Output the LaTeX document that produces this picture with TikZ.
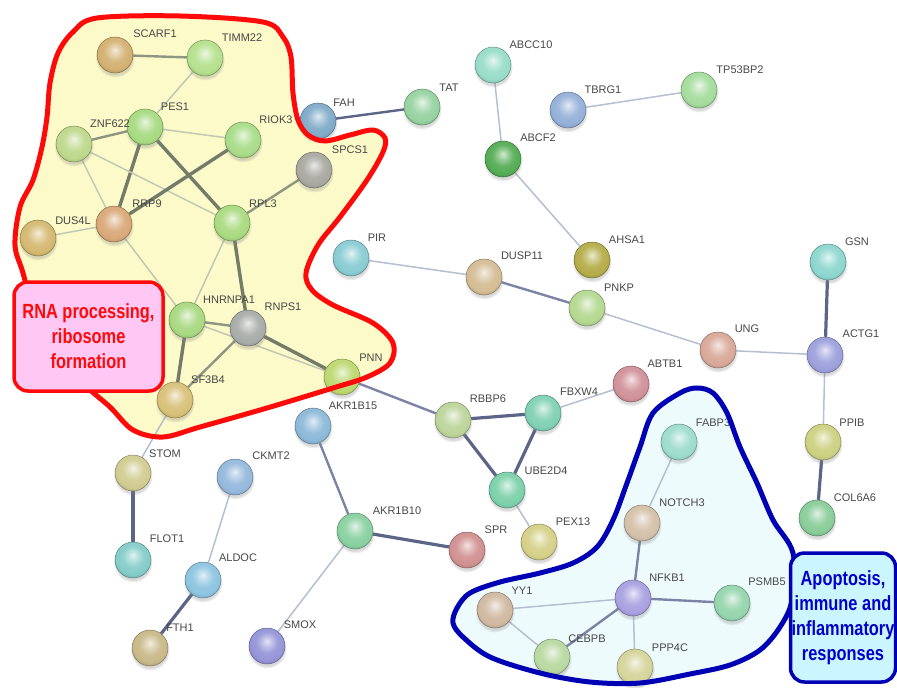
\documentclass[tikz,border=0pt]{standalone}
\usepackage{fontspec}
\setmainfont{Liberation Sans}
\newfontfamily\boxfont[FakeStretch=0.8]{Liberation Sans}
\usetikzlibrary{shadows}
\definecolor{yellowfill}{HTML}{FCFAC8}
\definecolor{bluefill}{HTML}{EEFBFD}
\definecolor{redline}{HTML}{FF0A0A}
\definecolor{blueline}{HTML}{0000B4}
\definecolor{pinkfill}{HTML}{FFC8F4}
\definecolor{cyanfill}{HTML}{CCF6FF}
\definecolor{gthk}{HTML}{737B69}
\definecolor{gmed}{HTML}{8E9682}
\definecolor{glt}{HTML}{C2C6B2}
\definecolor{bthk}{HTML}{5C6488}
\definecolor{bmed}{HTML}{7C84A6}
\definecolor{blt}{HTML}{B6BED2}
\makeatletter
\pgfdeclareradialshading[tikz@ball]{softball}{\pgfqpoint{0bp}{7bp}}{%
 color(0bp)=(tikz@ball!25!white);
 color(7bp)=(tikz@ball!60!white);
 color(15bp)=(tikz@ball!92!white);
 color(24bp)=(tikz@ball);
 color(30bp)=(tikz@ball!82!black);
 color(50bp)=(tikz@ball!82!black)}
\makeatother
\pgfdeclarelayer{blobs}
\pgfdeclarelayer{edges}
\pgfsetlayers{blobs,edges,main}
\tikzset{
  gn/.style={circle, minimum size=36pt, inner sep=0pt, ball color=#1, shading=softball,
    draw=#1!65!black, line width=0.5pt,
    circular drop shadow={shadow xshift=0pt, shadow yshift=-2.5pt, opacity=0.3}},
  lab/.style={font=\fontsize{11}{13}\selectfont, text=black!72, inner sep=1pt},
  gt/.style={draw=gthk, line width=3.4pt},
  gm/.style={draw=gmed, line width=2.4pt},
  gl/.style={draw=glt, line width=1.5pt},
  bt/.style={draw=bthk, line width=3.2pt},
  bm/.style={draw=bmed, line width=2.4pt},
  bl/.style={draw=blt, line width=1.5pt},
  labelbox/.style={rounded corners=14pt, line width=3.5pt, align=center, inner sep=1pt,
    font=\boxfont\bfseries\fontsize{20.5}{25}\selectfont}
}
\begin{document}
\begin{tikzpicture}[x=1pt,y=-1pt]
\useasboundingbox (0,0) rectangle (897,688);
% blob fills
\begin{pgfonlayer}{blobs}
\fill[yellowfill] plot[smooth cycle, tension=0.55] coordinates {
 (97,18) (180,16) (263,22) (283,37) (291,57) (293,93) (298,120) (308,135) (325,141)
 (350,135) (373,130) (385,138) (383,152) (367,180) (340,217) (318,245) (306,273)
 (312,290) (333,305) (373,323) (393,343) (390,363) (367,377) (333,388) (267,408)
 (200,427) (163,437) (133,430) (110,407) (80,380) (40,330) (23,273) (15,245)
 (20,207) (33,180) (42,147) (47,117) (50,83) (58,53) (73,32)};
\fill[bluefill] plot[smooth cycle, tension=0.55] coordinates {
 (697,388) (713,393) (727,413) (740,447) (757,483) (773,520) (793,553) (792,600)
 (780,627) (760,650) (730,665) (690,674) (640,683) (590,682) (540,673) (490,657)
 (463,637) (453,623) (457,608) (470,593) (500,582) (540,573) (573,563) (597,547)
 (613,520) (627,483) (640,447) (653,413) (680,393)};
\end{pgfonlayer}
% genes
\foreach \n/\x/\y/\col/\lx/\ly in {
 SCARF1/115/55/D2B070/155/34, TIMM22/205/58/B4E08C/242/38, PES1/145/127/A6DA80/175/107,
 ZNF622/74/144/BCD88A/110/124, RIOK3/243/140/A8DC88/276/120, FAH/318/121/7FAAC8/344/103,
 TAT/422/107/96D2A0/449/88, SPCS1/314/170/A8A8A0/350/150, RRP9/114/224/D8A878/147/204,
 DUS4L/38/238/D4B870/73/221, RPL3/232/223/A8DA7E/263/204, PIR/351/258/88CCD2/377/238,
 HNRNPA1/187/320/A8D880/229/300, RNPS1/248/328/A8ACA8/283/307, PNN/342/377/BCD870/371/358,
 SF3B4/175/400/D8C078/208/380, AKR1B15/313/426/8CB8D8/353/406, STOM/133/473/D0CC90/165/454,
 CKMT2/235/477/94B8DC/271/456, FLOT1/133/560/84CCC8/167/539, ALDOC/203/580/8CC4E0/238/558,
 FTH1/150/648/C8B888/180/628, SMOX/267/646/9494D8/300/625, AKR1B10/355/531/88D0A0/397/511,
 ABCC10/493/65/98DCC8/531/45, TBRG1/568/110/94B0D8/603/90, TP53BP2/699/90/A4DC9C/740/70,
 ABCF2/503/159/54AC54/538/138, AHSA1/592/260/B4AC48/627/240, GSN/828/262/8CD6CE/857/242,
 DUSP11/484/277/D4BC94/522/256, PNKP/587/308/B4D890/619/288, UNG/718/350/D8A898/747/329,
 ACTG1/825/355/9CA0DC/861/334, ABTB1/631/384/D09098/665/364, RBBP6/453/420/BCD49A/488/399,
 FBXW4/543/413/80D0B4/579/392, FABP3/679/442/9CDCCC/713/423, PPIB/823/442/CCD080/852/423,
 UBE2D4/507/490/7CD0AA/546/471, SPR/467/550/D09090/496/530, PEX13/539/542/D4D088/573/522,
 NOTCH3/642/523/D4C0A8/682/503, COL6A6/817/518/88CC98/855/498, NFKB1/633/598/A8A0E0/667/578,
 PSMB5/732/603/94D4AC/767/582, YY1/495/610/D0B8A0/522/591, CEBPB/552/657/B8D8A0/587/639,
 PPP4C/635/667/D4D49A/670/648}
{
  \definecolor{tmpc}{HTML}{\col}
  \node[gn=tmpc] (\n) at (\x,\y) {};
  \node[lab] (\n-l) at (\lx,\ly) {\n};
}
% edges
\begin{pgfonlayer}{edges}
\draw[gm] (SCARF1) -- (TIMM22);
\draw[gl] (TIMM22) -- (PES1);
\draw[gm] (PES1) -- (ZNF622);
\draw[gl] (PES1) -- (RIOK3);
\draw[gt] (PES1) -- (RRP9);
\draw[gt] (PES1) -- (RPL3);
\draw[gl] (ZNF622) -- (RRP9);
\draw[gl] (ZNF622) -- (RPL3);
\draw[gt] (RIOK3) -- (RRP9);
\draw[gl] (RRP9) -- (DUS4L);
\draw[gm] (RPL3) -- (SPCS1);
\draw[gl] (RRP9) -- (HNRNPA1);
\draw[gl] (RPL3) -- (HNRNPA1);
\draw[gt] (RPL3) -- (RNPS1);
\draw[gm] (HNRNPA1) -- (RNPS1);
\draw[gl] (HNRNPA1) -- (PNN);
\draw[gt] (HNRNPA1) -- (SF3B4);
\draw[gm] (RNPS1) -- (SF3B4);
\draw[gt] (RNPS1) -- (PNN);
\draw[bl] (SF3B4) -- (STOM);
\draw[bm] (PNN) -- (RBBP6);
\draw[bm, draw=bthk] (FAH) -- (TAT);
\draw[bl] (ABCC10) -- (ABCF2);
\draw[bl] (ABCF2) -- (AHSA1);
\draw[bl] (TBRG1) -- (TP53BP2);
\draw[bl] (PIR) -- (DUSP11);
\draw[bm] (DUSP11) -- (PNKP);
\draw[bl] (PNKP) -- (UNG);
\draw[bl] (UNG) -- (ACTG1);
\draw[bt] (GSN) -- (ACTG1);
\draw[bl] (ACTG1) -- (PPIB);
\draw[bt] (PPIB) -- (COL6A6);
\draw[bl] (FBXW4) -- (ABTB1);
\draw[bt] (RBBP6) -- (FBXW4);
\draw[bt] (RBBP6) -- (UBE2D4);
\draw[bt] (FBXW4) -- (UBE2D4);
\draw[bl] (UBE2D4) -- (PEX13);
\draw[bm] (AKR1B15) -- (AKR1B10);
\draw[bt] (AKR1B10) -- (SPR);
\draw[bl] (AKR1B10) -- (SMOX);
\draw[bl] (CKMT2) -- (ALDOC);
\draw[bt] (ALDOC) -- (FTH1);
\draw[bt] (STOM) -- (FLOT1);
\draw[bl] (FABP3) -- (NOTCH3);
\draw[bm] (NOTCH3) -- (NFKB1);
\draw[bm] (NFKB1) -- (PSMB5);
\draw[bl] (NFKB1) -- (YY1);
\draw[bm] (NFKB1) -- (CEBPB);
\draw[bl] (NFKB1) -- (PPP4C);
\draw[bl] (YY1) -- (CEBPB);
\end{pgfonlayer}
% blob outlines
\draw[redline, line width=5pt] plot[smooth cycle, tension=0.55] coordinates {
 (97,18) (180,16) (263,22) (283,37) (291,57) (293,93) (298,120) (308,135) (325,141)
 (350,135) (373,130) (385,138) (383,152) (367,180) (340,217) (318,245) (306,273)
 (312,290) (333,305) (373,323) (393,343) (390,363) (367,377) (333,388) (267,408)
 (200,427) (163,437) (133,430) (110,407) (80,380) (40,330) (23,273) (15,245)
 (20,207) (33,180) (42,147) (47,117) (50,83) (58,53) (73,32)};
\draw[blueline, line width=5pt] plot[smooth cycle, tension=0.55] coordinates {
 (697,388) (713,393) (727,413) (740,447) (757,483) (773,520) (793,553) (792,600)
 (780,627) (760,650) (730,665) (690,674) (640,683) (590,682) (540,673) (490,657)
 (463,637) (453,623) (457,608) (470,593) (500,582) (540,573) (573,563) (597,547)
 (613,520) (627,483) (640,447) (653,413) (680,393)};
% label boxes
\node[labelbox, draw=redline, fill=pinkfill, text=redline, minimum width=149pt, minimum height=109pt]
  (rbox) at (88.5,336.5) {RNA processing,\\ribosome\\formation};
\node[labelbox, draw=blueline, fill=cyanfill, text=blue!80!black, minimum width=104pt, minimum height=129pt]
  (bbox) at (843,617.5) {Apoptosis,\\immune and\\inflammatory\\responses};
\end{tikzpicture}
\end{document}
